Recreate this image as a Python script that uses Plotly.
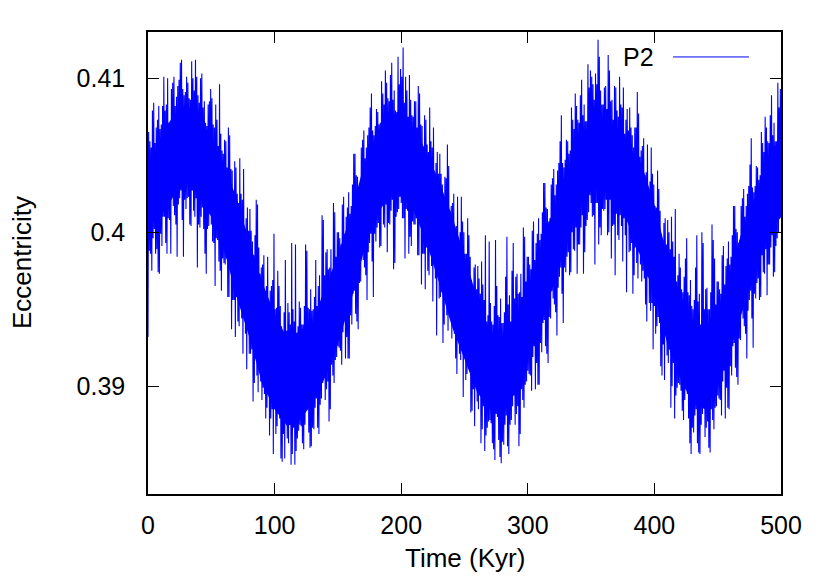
import numpy as np
import plotly.graph_objects as go

# P2 eccentricity vs time (units of 1e-4).
# The curve swings fast, so it is kept as the low points at whole kyr
# and the high points half a kyr later.
lo_time = np.arange(0, 501)
ecc_lo_e4 = [
    3932, 3988, 3986, 3975, 3996, 4002, 3986, 3989, 3974, 3973,
    3999, 3991, 4010, 4010, 3993, 3986, 4009, 4008, 3986, 4024,
    4017, 4011, 4005, 3984, 4018, 4022, 4027, 4008, 3984, 4021,
    4015, 4022, 4023, 4005, 4004, 4027, 4014, 4010, 4022, 3977,
    4005, 4003, 4010, 4016, 4002, 3986, 3973, 4002, 4004, 4012,
    4005, 3994, 3993, 3965, 3996, 3995, 3981, 3975, 3962, 3983,
    3980, 3979, 3983, 3958, 3958, 3977, 3937, 3956, 3956, 3932,
    3958, 3942, 3939, 3953, 3944, 3921, 3947, 3934, 3911, 3942,
    3921, 3921, 3924, 3890, 3902, 3918, 3907, 3896, 3911, 3903,
    3891, 3899, 3895, 3879, 3886, 3899, 3868, 3879, 3885, 3856,
    3885, 3869, 3874, 3882, 3879, 3853, 3851, 3869, 3853, 3879,
    3866, 3863, 3875, 3849, 3856, 3873, 3849, 3858, 3866, 3871,
    3875, 3874, 3863, 3859, 3875, 3885, 3885, 3870, 3860, 3861,
    3873, 3872, 3886, 3892, 3873, 3869, 3888, 3892, 3902, 3909,
    3891, 3898, 3903, 3877, 3885, 3914, 3907, 3902, 3917, 3919,
    3926, 3925, 3923, 3914, 3935, 3943, 3918, 3932, 3918, 3918,
    3946, 3940, 3960, 3962, 3947, 3942, 3937, 3967, 3968, 3987,
    3982, 3977, 3972, 3956, 3987, 3993, 3999, 3981, 3958, 3999,
    3994, 4003, 4006, 3990, 3991, 4017, 4005, 4003, 4018, 3987,
    4006, 4005, 4014, 4021, 3976, 3980, 4010, 4013, 4015, 4025,
    4019, 4009, 4009, 3983, 4015, 4014, 3986, 3997, 3991, 4007,
    4005, 4005, 4009, 3985, 3985, 4006, 3966, 3986, 3986, 3963,
    3990, 3975, 3972, 3987, 3978, 3955, 3982, 3970, 3933, 3979,
    3957, 3958, 3961, 3928, 3940, 3957, 3946, 3936, 3952, 3943,
    3931, 3939, 3934, 3918, 3908, 3938, 3921, 3917, 3923, 3893,
    3921, 3904, 3908, 3915, 3911, 3883, 3884, 3898, 3874, 3906,
    3890, 3885, 3895, 3863, 3872, 3887, 3858, 3868, 3873, 3877,
    3878, 3876, 3863, 3859, 3852, 3882, 3880, 3865, 3854, 3850,
    3864, 3862, 3875, 3881, 3861, 3856, 3875, 3878, 3887, 3894,
    3875, 3882, 3887, 3861, 3869, 3898, 3891, 3886, 3901, 3903,
    3910, 3908, 3907, 3897, 3919, 3926, 3898, 3915, 3901, 3901,
    3928, 3922, 3941, 3943, 3926, 3921, 3915, 3945, 3944, 3962,
    3957, 3953, 3948, 3933, 3964, 3971, 3977, 3960, 3941, 3977,
    3974, 3984, 3987, 3972, 3974, 4000, 3989, 3988, 4003, 3973,
    3992, 3992, 4003, 4011, 3973, 3987, 4004, 4008, 4013, 4024,
    4019, 4010, 4011, 3979, 4019, 4019, 3992, 4003, 3998, 4015,
    4014, 4015, 4021, 3998, 4000, 4021, 3983, 4004, 4005, 3972,
    4012, 3998, 3995, 4011, 4004, 3981, 4009, 3998, 3961, 4007,
    3987, 3988, 3993, 3960, 3972, 3990, 3980, 3970, 3987, 3979,
    3968, 3975, 3970, 3953, 3942, 3971, 3954, 3949, 3954, 3924,
    3952, 3934, 3939, 3945, 3941, 3913, 3907, 3927, 3904, 3935,
    3920, 3915, 3924, 3886, 3900, 3915, 3879, 3894, 3899, 3902,
    3901, 3897, 3884, 3878, 3891, 3898, 3895, 3879, 3863, 3856,
    3873, 3870, 3881, 3885, 3863, 3857, 3856, 3875, 3882, 3887,
    3867, 3873, 3877, 3860, 3857, 3885, 3878, 3872, 3886, 3887,
    3894, 3892, 3891, 3881, 3903, 3910, 3879, 3899, 3886, 3885,
    3913, 3907, 3926, 3928, 3912, 3906, 3901, 3931, 3930, 3949,
    3944, 3939, 3934, 3918, 3949, 3956, 3962, 3944, 3925, 3960,
    3957, 3967, 3970, 3956, 3958, 3985, 3974, 3973, 3989, 3959,
    3979, 3979, 3990, 3998, 3971, 3974, 3991, 3996, 4000, 4012, 4009,
]
hi_time = np.arange(0, 500) + 0.5
ecc_hi_e4 = [
    4065, 4059, 4055, 4079, 4084, 4058, 4068, 4073, 4082, 4067,
    4070, 4082, 4101, 4079, 4083, 4100, 4071, 4072, 4093, 4097,
    4101, 4082, 4088, 4095, 4099, 4110, 4112, 4093, 4089, 4091,
    4101, 4097, 4087, 4086, 4111, 4100, 4092, 4112, 4101, 4089,
    4084, 4100, 4103, 4081, 4085, 4071, 4069, 4083, 4085, 4093,
    4087, 4070, 4068, 4083, 4073, 4056, 4096, 4064, 4053, 4051,
    4060, 4059, 4042, 4068, 4063, 4041, 4040, 4025, 4046, 4042,
    4025, 4019, 4048, 4025, 4021, 4041, 4002, 4009, 4016, 4001,
    4015, 4001, 3994, 3985, 3998, 4021, 4018, 3990, 3973, 3977,
    3979, 3985, 3962, 3965, 3984, 3954, 3962, 3965, 3969, 3999,
    3950, 3951, 3975, 3965, 3952, 3939, 3935, 3948, 3982, 3936,
    3954, 3948, 3940, 3993, 3950, 3942, 3992, 3932, 3939, 3955,
    3951, 3940, 3940, 3952, 3992, 3988, 3951, 3950, 3963, 3949,
    3950, 3958, 3982, 3952, 3965, 3972, 3955, 4011, 4008, 3972,
    3987, 3989, 3976, 3977, 3989, 3974, 4019, 4013, 3984, 4000,
    4000, 3996, 3992, 4018, 4023, 3999, 4010, 4016, 4026, 4012,
    4017, 4031, 4051, 4051, 4037, 4036, 4029, 4031, 4055, 4060,
    4066, 4048, 4055, 4063, 4068, 4081, 4090, 4066, 4063, 4069,
    4080, 4078, 4070, 4071, 4098, 4090, 4083, 4105, 4097, 4087,
    4085, 4102, 4110, 4086, 4092, 4079, 4078, 4114, 4096, 4106,
    4101, 4120, 4084, 4101, 4092, 4075, 4102, 4086, 4076, 4075,
    4085, 4085, 4068, 4095, 4090, 4070, 4069, 4055, 4076, 4073,
    4057, 4052, 4081, 4059, 4055, 4068, 4037, 4045, 4052, 4038,
    4051, 4038, 4031, 4023, 4036, 4035, 4057, 4043, 4014, 4017,
    4019, 4025, 4001, 4004, 4023, 3993, 4000, 4023, 4007, 4000,
    3986, 3986, 4009, 3998, 3984, 3969, 3965, 3977, 3979, 3963,
    3978, 3970, 3960, 3981, 3966, 3956, 3998, 3942, 3946, 3994,
    3954, 3942, 3940, 3952, 3995, 3965, 3946, 3945, 3957, 3941,
    3941, 3948, 3971, 3997, 3953, 3959, 3942, 3975, 3993, 3957,
    3971, 3973, 3960, 3961, 3973, 3958, 4003, 3997, 3968, 3984,
    3984, 3979, 3976, 4001, 4007, 3982, 3993, 3999, 4009, 3995,
    3999, 4013, 4032, 4032, 4016, 4015, 4007, 4009, 4031, 4035,
    4041, 4024, 4031, 4040, 4045, 4059, 4076, 4045, 4042, 4047,
    4060, 4059, 4051, 4053, 4081, 4073, 4067, 4090, 4082, 4073,
    4071, 4089, 4099, 4076, 4083, 4072, 4072, 4109, 4094, 4105,
    4101, 4096, 4086, 4103, 4096, 4125, 4114, 4092, 4083, 4083,
    4094, 4095, 4080, 4115, 4105, 4085, 4086, 4073, 4095, 4094,
    4079, 4075, 4101, 4083, 4081, 4094, 4064, 4073, 4080, 4066,
    4081, 4068, 4063, 4055, 4068, 4068, 4091, 4077, 4049, 4053,
    4056, 4061, 4037, 4039, 4057, 4026, 4033, 4055, 4038, 4031,
    4017, 4016, 4040, 4028, 4014, 3999, 3995, 4006, 4009, 3992,
    4008, 4000, 3989, 4010, 3994, 3984, 4015, 3968, 3972, 3986,
    3977, 3963, 3961, 3971, 3983, 3996, 3961, 3959, 3969, 3952,
    3950, 3956, 3977, 3998, 3955, 3960, 3940, 4000, 3993, 3950,
    3963, 3964, 3950, 3950, 3961, 4005, 3995, 3983, 3953, 3968,
    3968, 3963, 3960, 3985, 3991, 3966, 3978, 3983, 3994, 3979,
    3984, 3998, 4017, 4017, 4002, 4000, 3993, 3995, 4017, 4022,
    4028, 4010, 4017, 4025, 4030, 4044, 4061, 4029, 4026, 4030,
    4043, 4042, 4034, 4037, 4065, 4058, 4052, 4075, 4068, 4059,
    4058, 4076, 4089, 4063, 4071, 4059, 4059, 4097, 4081, 4093,
]

# solid dense core of the band, read every 10 kyr (units of 1e-4)
core_time = np.arange(0, 501, 10)
core_top_e4 = [
    4040, 4061, 4076, 4083, 4076, 4061, 4044, 4022, 3994, 3968,
    3947, 3931, 3936, 3942, 3964, 3985, 4011, 4042, 4063, 4078,
    4076, 4068, 4052, 4033, 4011, 3985, 3957, 3936, 3931, 3942,
    3964, 3990, 4014, 4039, 4059, 4072, 4072, 4065, 4055, 4044,
    4018, 3985, 3960, 3942, 3938, 3949, 3975, 4003, 4024, 4050, 4061,
]
core_bot_e4 = [
    4004, 4010, 4023, 4032, 4023, 4010, 3989, 3958, 3932, 3902,
    3885, 3874, 3878, 3889, 3906, 3928, 3954, 3986, 4010, 4023,
    4023, 4014, 3993, 3967, 3939, 3917, 3896, 3885, 3881, 3896,
    3917, 3939, 3965, 3993, 4014, 4027, 4030, 4023, 4004, 3982,
    3960, 3928, 3906, 3889, 3885, 3900, 3924, 3950, 3976, 3997, 4010,
]

x_ticks = [0, 100, 200, 300, 400, 500]
y_ticks = [0.39, 0.40, 0.41]
y_ticktext = ["0.39", "0.4", "0.41"]
series_name = "P2"

font_family = "Liberation Sans, Arial, sans-serif"
blue = "#0000ff"

# interleave lows and highs into one time-ordered series
df_t = np.concatenate([lo_time, hi_time])
df_e = np.concatenate([ecc_lo_e4, ecc_hi_e4]) / 1e4
order = np.argsort(df_t, kind="stable")
time_kyr, ecc = df_t[order], df_e[order]

fig = go.Figure()
fig.add_trace(go.Scatter(x=core_time, y=np.array(core_bot_e4) / 1e4, mode="lines",
                         line=dict(width=0), showlegend=False, hoverinfo="skip"))
fig.add_trace(go.Scatter(x=core_time, y=np.array(core_top_e4) / 1e4, mode="lines",
                         line=dict(width=0), fill="tonexty", fillcolor=blue,
                         showlegend=False, hoverinfo="skip"))
fig.add_trace(go.Scatter(
    x=time_kyr, y=ecc, mode="lines",
    line=dict(color=blue, width=1.1),
    name=series_name, showlegend=False, hoverinfo="skip"
))

axis_style = dict(
    showline=True, linecolor="black", linewidth=1.5, mirror="ticks",
    ticks="inside", ticklen=11, tickwidth=1, tickcolor="black",
    showgrid=False, zeroline=False,
    tickfont=dict(family=font_family, size=25, color="black"),
)

fig.update_xaxes(range=[0, 500], tickvals=x_ticks, ticklabelstandoff=8, **axis_style)
fig.update_yaxes(range=[0.383, 0.413], tickvals=y_ticks, ticktext=y_ticktext,
                 ticklabelstandoff=16, **axis_style)

# axis titles
fig.add_annotation(text="Time (Kyr)", x=0.5, y=-0.138, xref="paper", yref="paper",
                   showarrow=False, yanchor="middle",
                   font=dict(family=font_family, size=26, color="black"))
fig.add_annotation(text="Eccentricity", x=-0.199, y=0.5, xref="paper", yref="paper",
                   showarrow=False, textangle=-90, xanchor="center",
                   font=dict(family=font_family, size=26, color="black"))

# gnuplot-style key: label first, then line sample
fig.add_annotation(text=series_name, x=0.8025, y=0.946, xref="paper", yref="paper",
                   showarrow=False, xanchor="right", yanchor="middle",
                   font=dict(family=font_family, size=25, color="black"))
fig.add_shape(type="line", xref="paper", yref="paper",
              x0=0.8294, x1=0.9494, y0=0.946, y1=0.946,
              line=dict(color=blue, width=1))

# page body adds an 8px margin, so the figure is 16px smaller than the window
fig.update_layout(
    width=814, height=565,
    margin=dict(l=140, r=41, t=24, b=79),
    plot_bgcolor="white", paper_bgcolor="white",
    font=dict(family=font_family, color="black"),
)

fig.write_html("out.html")
